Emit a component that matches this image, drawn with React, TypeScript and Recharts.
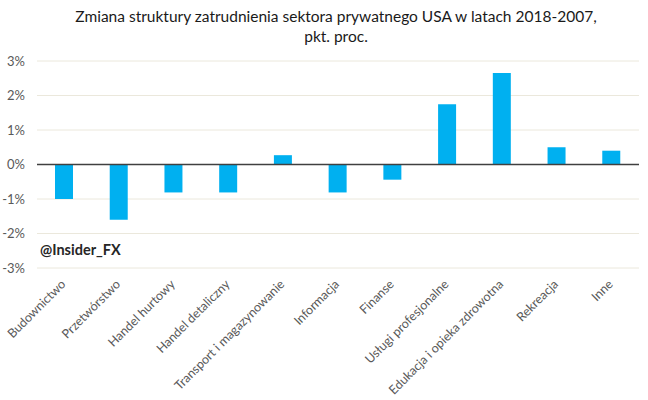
import React from 'react';
import { BarChart, Bar, XAxis, YAxis, CartesianGrid, ReferenceLine } from 'recharts';

const categories = [
  'Budownictwo',
  'Przetwórstwo',
  'Handel hurtowy',
  'Handel detaliczny',
  'Transport i magazynowanie',
  'Informacja',
  'Finanse',
  'Usługi profesjonalne',
  'Edukacja i opieka zdrowotna',
  'Rekreacja',
  'Inne',
];
const values = [-1.0, -1.6, -0.81, -0.81, 0.27, -0.81, -0.44, 1.75, 2.65, 0.5, 0.4];
const yTicks = [-3, -2, -1, 0, 1, 2, 3];

const data = categories.map((name, i) => ({ name, value: values[i] }));

const FONT = 'Lato, "Open Sans", sans-serif';

const XTick = (props: any) => {
  const { x, y, payload } = props;
  const ax = x + 2;
  const ay = y + 9;
  return (
    <text
      x={ax}
      y={ay}
      transform={`rotate(-45, ${ax}, ${ay})`}
      textAnchor="end"
      fontSize={12.5}
      fill="#595959"
      fontFamily={FONT}
    >
      {payload.value}
    </text>
  );
};

export default function App() {
  return (
    <div style={{ position: 'absolute', left: 0, top: 0, width: 648, height: 400, background: '#fff', fontFamily: FONT }}>
      <div style={{ position: 'absolute', left: 0, top: 6, width: 672, textAlign: 'center', fontSize: 15.5, lineHeight: '20px', color: '#1a1a1a' }}>
        Zmiana struktury zatrudnienia sektora prywatnego USA w latach 2018-2007,
        <br />
        pkt. proc.
      </div>
      <BarChart
        width={648}
        height={400}
        data={data}
        margin={{ top: 61, right: 9, bottom: 0, left: 0 }}
      >
        <CartesianGrid horizontal vertical={false} stroke="#ebe8dc" strokeWidth={1} />
        <XAxis
          dataKey="name"
          interval={0}
          height={132}
          tick={<XTick />}
          tickLine={false}
          axisLine={false}
        />
        <YAxis
          domain={[-3, 3]}
          ticks={yTicks}
          width={37}
          tickFormatter={(v: number) => `${v}%`}
          tick={{ fontSize: 13, fill: '#595959', fontFamily: FONT }}
          tickLine={false}
          axisLine={false}
          tickSize={10}
          tickMargin={2}
        />
        <ReferenceLine y={0} stroke="#404040" strokeWidth={1.5} />
        <Bar dataKey="value" fill="#00b0f0" barSize={18} isAnimationActive={false} />
      </BarChart>
      <div style={{ position: 'absolute', left: 40, top: 241, fontSize: 14.5, fontWeight: 'bold', color: '#262626' }}>
        @Insider_FX
      </div>
    </div>
  );
}
